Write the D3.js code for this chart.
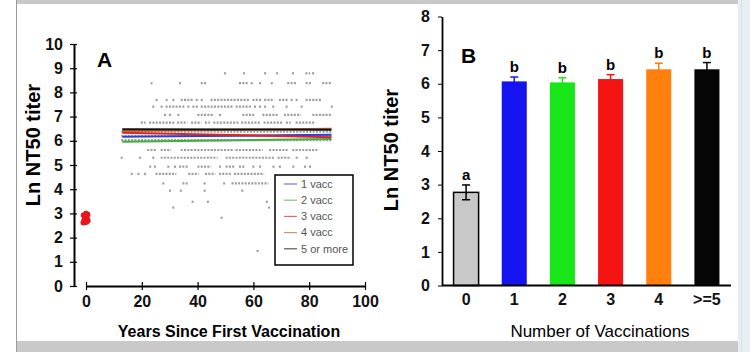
<!DOCTYPE html>
<html>
<head>
<meta charset="utf-8">
<script src="https://cdn.jsdelivr.net/npm/d3@7"></script>
<style>
    body { margin: 0; background: #ffffff; }
    svg { display: block; font-family: "Liberation Sans", Arial, sans-serif; }
</style>
</head>
<body>
<div id="chart"></div>
<script>
// ---- Panel A data ----
// levels (Ln NT50) at which the gray points sit, and the runs of points on each level (years)
var scatterLevels = [8.79, 8.38, 7.69, 7.41, 7.07, 6.75, 6.38, 6.20, 6.03, 5.62, 5.30, 4.93, 4.63, 4.24, 3.94, 3.48, 3.24, 2.82, 1.45];
var scatterRuns = [
    [[49.8], [56.6], [64.2], [68.5], [74.2], [79, 80], [81.4]],
    [[23.5], [33.7], [41.5, 43], [55.2, 57.6], [59.4], [62.4], [66.6], [72.5, 74.9], [79.1, 80.5], [85, 87.5]],
    [[25.3], [28.9], [31.3], [34.3, 37.9], [39.7], [41.5], [45, 58.2], [60, 62.4], [64.2, 67.1], [69.5, 71.9], [73.7], [75.5], [79.1, 83.9]],
    [[24.1], [27.1], [28.9], [30.1, 33.7], [34.9], [36.7], [38.5], [39.7], [41.5, 52.2], [54, 58.8], [60.6], [62.4], [64.2], [67.1], [71.9], [77.3], [88.1]],
    [[28.3], [30.1], [33.1], [40.3, 45.6], [48], [56.4, 60], [63.6, 68.3], [71.3, 76.7], [81.5, 87.5]],
    [[20, 21], [23, 31.3], [33, 36], [38, 41], [43, 44], [46, 54.6], [56, 62], [64, 70], [72, 73], [75.5, 81.5]],
    [[13, 88]],
    [[13, 88]],
    [[13, 88]],
    [[22.3, 24.7], [27.1, 30.1], [34.3, 37.9], [39.1, 41.5], [42.7, 44.5], [45.1, 52.8], [54, 63], [66, 72], [74.3, 82.7]],
    [[12.8], [19.4], [24.1], [27.1, 46.8], [50.4, 67.1], [69, 73.1], [75.5], [79.1]],
    [[23], [24.7], [29.5], [31.9], [33.7, 36.1], [40.3, 44.5], [48], [50.4, 52.8], [55.2, 56.4], [60], [62.4], [67.2], [69.5], [74.3], [78.5], [80.3]],
    [[16.4], [18.8], [21.1], [25.3, 32], [37, 40], [43, 46], [48, 52], [53.4, 63.5]],
    [[27.7], [34.9, 36.2], [42.5], [49.5], [52.5, 65]],
    [[30.1], [34], [42.5], [56]],
    [[38.2], [43.7], [64.8]],
    [[31.3], [65.6]],
    [[48.6]],
    [[61.5]]
];

// never-vaccinated group, plotted at year 0
var zeroDoseYears = [-0.9, 0, 0.6, -0.5, 0.3, -0.2, -0.8, 0.5, 0];
var zeroDoseTiters = [2.62, 2.64, 2.70, 2.76, 2.80, 2.86, 2.92, 2.95, 2.99];

// regression lines per vaccination group
var lineNames = ['1 vacc', '2 vacc', '3 vacc', '4 vacc', '5 or more'];
var lineYears = [13, 88];
var lineStart = [6.17, 5.96, 6.33, 6.40, 6.48];
var lineEnd = [6.25, 6.07, 6.15, 6.50, 6.46];
var lineColors = ['#2a3ed8', '#3fae3f', '#e02424', '#c0642a', '#111111'];

// ---- Panel B data ----
var barCategories = ['0', '1', '2', '3', '4', '>=5'];
var barMeans = [2.77, 6.07, 6.04, 6.14, 6.43, 6.43];
var barErrors = [0.22, 0.13, 0.14, 0.13, 0.18, 0.20];
var barLetters = ['a', 'b', 'b', 'b', 'b', 'b'];
var barColors = ['#c8c8c8', '#1414f0', '#19e619', '#f51414', '#ff7f0f', '#050505'];

var svg = d3.select('#chart').append('svg')
    .attr('width', 750)
    .attr('height', 352);

// page frame: gray bands top and bottom, thin rule on the left, pale strip on the right
svg.append('rect').attr('x', 17).attr('y', 0).attr('width', 721).attr('height', 4).attr('fill', '#c9c9c9');
svg.append('rect').attr('x', 17).attr('y', 341).attr('width', 721).attr('height', 11).attr('fill', '#c9c9c9');
svg.append('line').attr('x1', 16.5).attr('x2', 16.5).attr('y1', 0).attr('y2', 352).attr('stroke', '#9a9a9a');
svg.append('rect').attr('x', 738).attr('y', 0).attr('width', 12).attr('height', 352).attr('fill', '#e9eef2');
svg.append('line').attr('x1', 741.5).attr('x2', 741.5).attr('y1', 0).attr('y2', 352).attr('stroke', '#dbe2e7');

// ================= Panel A =================
var xA = d3.scaleLinear().domain([0, 100]).range([86, 365]);
var yA = d3.scaleLinear().domain([0, 10]).range([286, 44]);

var gA = svg.append('g');

// gray points, drawn as runs of small dashes along each level
scatterLevels.forEach(function (level, i) {
    gA.selectAll(null)
        .data(scatterRuns[i])
        .enter().append('line')
        .attr('x1', function (r) { return xA(r[0]) - 1; })
        .attr('x2', function (r) { return xA(r.length > 1 ? r[1] : r[0]) + 1; })
        .attr('y1', yA(level))
        .attr('y2', yA(level))
        .attr('stroke', '#9c9c9c')
        .attr('stroke-width', 2.2)
        .attr('stroke-dasharray', '2,1.3');
});

// regression lines
gA.selectAll('.reg')
    .data(lineNames)
    .enter().append('line')
    .attr('class', 'reg')
    .attr('x1', xA(lineYears[0]))
    .attr('x2', xA(lineYears[1]))
    .attr('y1', function (d, i) { return yA(lineStart[i]); })
    .attr('y2', function (d, i) { return yA(lineEnd[i]); })
    .attr('stroke', function (d, i) { return lineColors[i]; })
    .attr('stroke-width', 2);

// zero-dose points
gA.selectAll('.zero')
    .data(zeroDoseTiters)
    .enter().append('circle')
    .attr('class', 'zero')
    .attr('cx', function (d, i) { return xA(zeroDoseYears[i]); })
    .attr('cy', function (d) { return yA(d); })
    .attr('r', 3)
    .attr('fill', '#e8141e');

// y axis sits a little left of where the x axis starts
var yAxisA = gA.append('g')
    .attr('transform', 'translate(74,0)')
    .call(d3.axisLeft(yA).ticks(10).tickSizeInner(4).tickSizeOuter(0).tickPadding(7));
yAxisA.selectAll('.tick line').attr('x1', 3).attr('x2', -4);

var xAxisA = gA.append('g')
    .attr('transform', 'translate(0,286)')
    .call(d3.axisBottom(xA).ticks(5).tickSizeInner(3).tickSizeOuter(0).tickPadding(7));
xAxisA.selectAll('.tick line').attr('y1', -4).attr('y2', 4);

[yAxisA, xAxisA].forEach(function (ax) {
    ax.select('.domain').attr('stroke', '#000').attr('stroke-width', 2);
    ax.selectAll('.tick line').attr('stroke', '#000').attr('stroke-width', 1.2);
    ax.selectAll('text')
        .attr('fill', '#111')
        .style('font-size', '16px')
        .style('font-weight', 'bold')
        .style('font-family', '"Liberation Sans", Arial, sans-serif');
});

gA.append('text')
    .attr('x', 97)
    .attr('y', 67)
    .style('font-size', '21px')
    .style('font-weight', 'bold')
    .text('A');

gA.append('text')
    .attr('transform', 'translate(40,145) rotate(-90)')
    .attr('text-anchor', 'middle')
    .style('font-size', '20px')
    .style('font-weight', 'bold')
    .text('Ln NT50 titer');

gA.append('text')
    .attr('x', 229)
    .attr('y', 337)
    .attr('text-anchor', 'middle')
    .style('font-size', '16px')
    .style('font-weight', 'bold')
    .text('Years Since First Vaccination');

// legend
var legend = gA.append('g');
legend.append('rect')
    .attr('x', 275).attr('y', 175)
    .attr('width', 78).attr('height', 90)
    .attr('fill', '#fff')
    .attr('stroke', '#000')
    .attr('stroke-width', 1.5);

var legendItem = legend.selectAll('.item')
    .data(lineNames)
    .enter().append('g')
    .attr('class', 'item')
    .attr('transform', function (d, i) { return 'translate(0,' + (184 + i * 16.2) + ')'; });

legendItem.append('line')
    .attr('x1', 284).attr('x2', 297)
    .attr('stroke', function (d, i) { return lineColors[i]; })
    .attr('stroke-opacity', 0.7)
    .attr('stroke-width', 1.2);

legendItem.append('text')
    .attr('x', 301)
    .attr('dy', '0.35em')
    .attr('fill', '#555')
    .style('font-size', '11px')
    .text(function (d) { return d; });

// ================= Panel B =================
var xB = d3.scaleBand()
    .domain(barCategories)
    .range([442, 731])
    .paddingInner(0.48)
    .paddingOuter(0.24);
var yB = d3.scaleLinear().domain([0, 8]).range([285.5, 16.5]);

var gB = svg.append('g');

gB.selectAll('.bar')
    .data(barMeans)
    .enter().append('rect')
    .attr('class', 'bar')
    .attr('x', function (d, i) { return xB(barCategories[i]); })
    .attr('y', function (d) { return yB(d); })
    .attr('width', xB.bandwidth())
    .attr('height', function (d) { return yB(0) - yB(d); })
    .attr('fill', function (d, i) { return barColors[i]; })
    .attr('stroke', function (d, i) { return i === 0 ? '#000' : 'none'; })
    .attr('stroke-width', 1.5);

// error bars, same colour as the bar (black on the gray bar)
var err = gB.selectAll('.err')
    .data(barMeans)
    .enter().append('g')
    .attr('class', 'err')
    .attr('stroke', function (d, i) { return i === 0 ? '#000' : barColors[i]; })
    .attr('stroke-width', 1.5);

err.append('line')
    .attr('x1', function (d, i) { return xB(barCategories[i]) + xB.bandwidth() / 2; })
    .attr('x2', function (d, i) { return xB(barCategories[i]) + xB.bandwidth() / 2; })
    .attr('y1', function (d, i) { return yB(d - barErrors[i]); })
    .attr('y2', function (d, i) { return yB(d + barErrors[i]); });

err.append('line')
    .attr('x1', function (d, i) { return xB(barCategories[i]) + xB.bandwidth() / 2 - 4; })
    .attr('x2', function (d, i) { return xB(barCategories[i]) + xB.bandwidth() / 2 + 4; })
    .attr('y1', function (d, i) { return yB(d + barErrors[i]); })
    .attr('y2', function (d, i) { return yB(d + barErrors[i]); });

err.append('line')
    .attr('x1', function (d, i) { return xB(barCategories[i]) + xB.bandwidth() / 2 - 4; })
    .attr('x2', function (d, i) { return xB(barCategories[i]) + xB.bandwidth() / 2 + 4; })
    .attr('y1', function (d, i) { return yB(d - barErrors[i]); })
    .attr('y2', function (d, i) { return yB(d - barErrors[i]); });

// significance letters
gB.selectAll('.letter')
    .data(barLetters)
    .enter().append('text')
    .attr('class', 'letter')
    .attr('x', function (d, i) { return xB(barCategories[i]) + xB.bandwidth() / 2; })
    .attr('y', function (d, i) { return yB(barMeans[i] + barErrors[i]) - 5; })
    .attr('text-anchor', 'middle')
    .style('font-size', '15px')
    .style('font-weight', 'bold')
    .text(function (d) { return d; });

var yAxisB = gB.append('g')
    .attr('transform', 'translate(442,0)')
    .call(d3.axisLeft(yB).ticks(8).tickSizeInner(4).tickSizeOuter(0).tickPadding(8));

var xAxisB = gB.append('g')
    .attr('transform', 'translate(0,285.5)')
    .call(d3.axisBottom(xB).tickSize(0).tickPadding(8));
xAxisB.select('.domain').attr('d', 'M0,0H' + (731 - 442)).attr('transform', 'translate(442,0)');

[yAxisB, xAxisB].forEach(function (ax) {
    ax.select('.domain').attr('stroke', '#000').attr('stroke-width', 1.8);
    ax.selectAll('.tick line').attr('stroke', '#000');
    ax.selectAll('text')
        .attr('fill', '#111')
        .style('font-size', '16px')
        .style('font-weight', 'bold')
        .style('font-family', '"Liberation Sans", Arial, sans-serif');
});

gB.append('text')
    .attr('x', 461)
    .attr('y', 63)
    .style('font-size', '21px')
    .style('font-weight', 'bold')
    .text('B');

gB.append('text')
    .attr('transform', 'translate(398,150) rotate(-90)')
    .attr('text-anchor', 'middle')
    .style('font-size', '20px')
    .style('font-weight', 'bold')
    .text('Ln NT50 titer');

gB.append('text')
    .attr('x', 600)
    .attr('y', 337)
    .attr('text-anchor', 'middle')
    .style('font-size', '17px')
    .text('Number of Vaccinations');
</script>
</body>
</html>
